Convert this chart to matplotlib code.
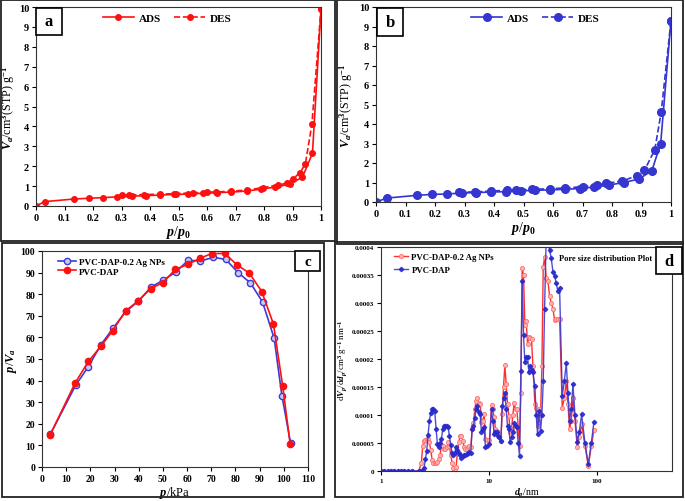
import matplotlib
matplotlib.use("Agg")
import matplotlib.pyplot as plt
from matplotlib.patches import Rectangle

plt.rcParams['font.family'] = ['Liberation Serif', 'DejaVu Serif']
plt.rcParams['font.weight'] = 'bold'
plt.rcParams['mathtext.fontset'] = 'custom'
plt.rcParams['mathtext.rm'] = 'Liberation Serif:bold'
plt.rcParams['mathtext.it'] = 'Liberation Serif:italic:bold'
plt.rcParams['mathtext.bf'] = 'Liberation Serif:bold'
plt.rcParams['axes.linewidth'] = 0.8

# ---------------- Panel a (red isotherm) ----------------
a_ads_p = [0.0, 0.03, 0.133, 0.186, 0.236, 0.285, 0.336, 0.385, 0.435, 0.485, 0.535, 0.585, 0.635, 0.685, 0.74, 0.79, 0.84, 0.89, 0.935, 0.97, 1.0]
a_ads_v = [0.0, 0.22, 0.35, 0.39, 0.42, 0.46, 0.49, 0.52, 0.55, 0.58, 0.60, 0.64, 0.67, 0.70, 0.75, 0.85, 0.95, 1.10, 1.45, 2.65, 9.9]
a_des_p = [0.30, 0.325, 0.38, 0.435, 0.49, 0.55, 0.60, 0.63, 0.685, 0.74, 0.795, 0.85, 0.88, 0.90, 0.925, 0.945, 0.968, 1.0]
a_des_v = [0.55, 0.55, 0.57, 0.60, 0.62, 0.66, 0.70, 0.70, 0.75, 0.80, 0.92, 1.05, 1.15, 1.35, 1.65, 2.10, 4.10, 9.9]

# ---------------- Panel b (blue isotherm) ----------------
b_ads_p = [0.0, 0.036, 0.138, 0.189, 0.24, 0.29, 0.34, 0.39, 0.44, 0.49, 0.54, 0.59, 0.64, 0.69, 0.74, 0.79, 0.84, 0.89, 0.935, 0.965, 1.0]
b_ads_v = [0.0, 0.20, 0.34, 0.39, 0.41, 0.46, 0.48, 0.51, 0.53, 0.57, 0.60, 0.62, 0.65, 0.69, 0.77, 0.87, 1.00, 1.17, 1.60, 3.00, 9.3]
b_des_p = [0.28, 0.335, 0.39, 0.445, 0.475, 0.53, 0.59, 0.64, 0.70, 0.75, 0.78, 0.835, 0.885, 0.91, 0.945, 0.967, 1.0]
b_des_v = [0.50, 0.52, 0.56, 0.60, 0.62, 0.65, 0.68, 0.72, 0.78, 0.88, 0.95, 1.08, 1.35, 1.62, 2.68, 4.63, 9.3]

# ---------------- Panel c (p/Va vs p) ----------------
c_ag_p = [3.4, 13.9, 19.2, 24.3, 29.4, 34.7, 39.9, 45.0, 50.1, 55.3, 60.5, 65.5, 70.8, 76.0, 81.1, 86.2, 91.2, 96.0, 99.2, 102.8]
c_ag_v = [15.1, 37.8, 46.5, 56.5, 64.3, 72.0, 76.8, 83.2, 86.5, 90.2, 95.8, 95.3, 97.1, 96.1, 90.0, 85.2, 76.4, 59.6, 33.1, 11.1]
c_dap_p = [3.4, 13.7, 19.2, 24.3, 29.2, 34.6, 39.8, 44.9, 50.1, 55.1, 60.4, 65.2, 70.2, 75.6, 80.5, 85.7, 90.9, 95.7, 99.5, 102.6]
c_dap_v = [14.9, 38.9, 48.9, 55.8, 63.1, 72.3, 76.9, 82.6, 85.4, 91.5, 93.8, 96.6, 98.8, 98.9, 93.7, 89.8, 81.2, 66.2, 37.7, 10.8]

# ---------------- Panel d (pore size distribution) ----------------
d_nm = [1.000, 1.074, 1.153, 1.238, 1.330, 1.428, 1.534, 1.647, 1.769, 1.941,
        2.238, 2.370, 2.438, 2.508, 2.580, 2.656, 2.733, 2.811, 2.893, 2.977,
        3.063, 3.151, 3.243, 3.336, 3.433, 3.532, 3.634, 3.739, 3.847, 3.958,
        4.073, 4.190, 4.311, 4.437, 4.565, 4.697, 4.833, 4.973, 5.117, 5.265,
        5.417, 5.574, 5.735, 5.901, 6.072, 6.247, 6.427, 6.613, 6.805, 7.002,
        7.204, 7.413, 7.627, 7.847, 8.074, 8.308, 8.548, 8.795, 9.050, 9.311,
        9.719, 10.14, 10.59, 10.89, 11.21, 11.53, 11.87, 12.21, 12.56, 12.93,
        13.30, 13.69, 14.08, 14.49, 14.91, 15.34, 15.78, 16.24, 16.71, 17.19,
        17.69, 18.20, 18.73, 19.27, 19.83, 20.40, 20.99, 21.60, 22.22, 22.87,
        23.53, 24.21, 24.91, 25.63, 26.74, 27.52, 28.31, 29.34, 30.19, 31.07,
        31.96, 32.89, 34.08, 35.32, 36.60, 37.93, 39.30, 40.73, 42.21, 43.74,
        45.33, 47.99, 50.09, 52.29, 54.17, 56.14, 58.18, 60.29, 62.93, 66.14,
        69.02, 72.57, 77.93, 83.67, 89.24, 94.46]
# values in units of 1e-5 cm3 g-1 nm-1
d_dap_e5 = [0, 0, 0, 0, 0, 0, 0, 0, 0, 0,
            0, 0, 0, 0.5, 2.1, 3.6, 6.5, 9.0, 10.4, 11.0,
            11.0, 10.7, 7.5, 4.8, 4.2, 5.0, 5.7, 7.5, 8.1, 8.1,
            8.1, 7.8, 6.3, 4.6, 3.2, 2.9, 3.3, 4.2, 3.8, 3.2,
            2.8, 2.4, 2.6, 2.8, 2.9, 3.1, 3.2, 3.4, 3.3, 7.5,
            8.0, 9.5, 11.0, 11.6, 10.5, 10.1, 7.0, 7.5, 7.8, 4.2,
            4.5, 4.8, 11.0, 9.0, 6.6, 7.0, 7.0, 6.3, 6.0, 5.4,
            11.6, 13.0, 14.0, 11.0, 8.0, 7.5, 5.1, 6.0, 7.0, 8.5,
            8.0, 7.8, 5.0, 2.7, 17.9, 34.0, 24.2, 19.4, 20.3, 20.3,
            17.6, 18.7, 18.0, 17.6, 15.2, 10.0, 6.6, 10.7, 7.2, 10.0,
            16.0, 29.0, 42.0, 41.0, 39.5, 38.0, 35.6, 34.9, 33.5, 32.1,
            32.6, 13.4, 16.0, 19.2, 14.0, 9.0, 11.0, 15.5, 10.0, 5.1,
            7.0, 10.1, 5.0, 1.2, 5.0, 8.8]
d_ag_e5 = [0, 0, 0, 0, 0, 0, 0, 0, 0, 0,
           0, 1.5, 4.5, 5.4, 5.6, 5.8, 5.8, 5.1, 3.8, 2.0,
           1.5, 1.5, 1.5, 1.6, 2.2, 2.9, 4.6, 4.5, 4.0, 4.0,
           4.2, 5.1, 4.5, 2.8, 1.5, 0.6, 0.0, 0.8, 3.2, 5.2,
           6.2, 6.3, 5.4, 4.2, 4.0, 3.9, 4.2, 4.5, 4.2, 7.5,
           8.5, 11.0, 12.5, 13.1, 12.1, 12.0, 8.7, 9.0, 10.1, 5.7,
           5.6, 5.5, 11.8, 11.0, 9.6, 7.5, 7.2, 6.6, 6.0, 5.4,
           10.1, 15.0, 18.9, 15.5, 12.0, 9.9, 6.9, 7.5, 10.0, 12.2,
           11.0, 11.0, 8.0, 4.5, 14.0, 36.3, 35.0, 26.0, 26.7, 22.7,
           23.9, 23.7, 23.5, 18.8, 12.0, 11.3, 8.0, 11.0, 10.0, 18.8,
           36.4, 38.2, 34.5, 33.9, 31.3, 30.0, 29.0, 27.0, 27.1, 27.2,
           27.2, 11.3, 13.0, 16.1, 12.0, 7.5, 9.0, 13.0, 9.0, 4.2,
           6.0, 8.4, 4.5, 0.9, 4.5, 7.3]
d_yticks = [0, 0.00005, 0.0001, 0.00015, 0.0002, 0.00025, 0.0003, 0.00035, 0.0004]
d_yticklabels = ['0', '0.00005', '0.0001', '0.00015', '0.0002', '0.00025', '0.0003', '0.00035', '0.0004']

W, H = 685, 502
fig = plt.figure(figsize=(W / 100, H / 100), dpi=100)


def px_axes(x0, x1, y0, y1):
    return fig.add_axes([x0 / W, 1 - y1 / H, (x1 - x0) / W, (y1 - y0) / H])


def px_frame(x0, y0, x1, y1, lw=1.3):
    fig.add_artist(Rectangle((x0 / W, 1 - y1 / H), (x1 - x0) / W, (y1 - y0) / H,
                             transform=fig.transFigure, fill=False, ec='#222222', lw=lw))


def label_box(x0, y0, x1, y1, txt, fs=12):
    fig.add_artist(Rectangle((x0 / W, 1 - y1 / H), (x1 - x0) / W, (y1 - y0) / H,
                             transform=fig.transFigure, fc='white', ec='black', lw=1.2, zorder=10))
    fig.text((x0 + x1) / 2 / W, 1 - (y0 + y1) / 2 / H, txt, ha='center', va='center',
             fontsize=fs, fontweight='bold', zorder=11)


def style(ax, fs):
    ax.tick_params(direction='out', length=3, width=0.8, labelsize=fs, pad=2)
    for s in ax.spines.values():
        s.set_color('#333333')
        s.set_linewidth(0.8)


# outer panel frames
px_frame(1, 1, 335, 242)
px_frame(337, 1, 683, 245)
px_frame(2, 244, 324, 498)
px_frame(335, 243, 683, 498)

# ---- a ----
red = '#ff1010'
axa = px_axes(36, 321, 8, 207)
axa.plot(a_ads_p, a_ads_v, '-', color=red, marker='o', ms=4, lw=1.2, label='ADS')
axa.plot(a_des_p, a_des_v, '--', color=red, marker='o', ms=4, lw=1.2, label='DES')
axa.set_xlim(0, 1)
axa.set_ylim(0, 10)
axa.set_xticks([i / 10 for i in range(11)])
axa.set_xticklabels(['0', '0.1', '0.2', '0.3', '0.4', '0.5', '0.6', '0.7', '0.8', '0.9', '1'])
axa.set_yticks(range(11))
style(axa, 7.5)
axa.set_xlabel(r'$p$/$p_0$', fontsize=10, labelpad=1)
axa.set_ylabel(r'$V_a$/cm$^3$(STP) g$^{-1}$', fontsize=8.7)
axa.yaxis.set_label_coords(-0.068, 0.5)
axa.legend(loc='upper center', bbox_to_anchor=(0.46, 1.02), ncol=2, frameon=False,
           fontsize=8, handlelength=2.8, columnspacing=1.2, handletextpad=0.4)
label_box(36, 9, 62, 36, 'a')

# ---- b ----
blue = '#3535cf'
axb = px_axes(376, 671, 8, 203)
axb.plot(b_ads_p, b_ads_v, '-', color=blue, marker='o', ms=5.5, lw=1.2, label='ADS')
axb.plot(b_des_p, b_des_v, '--', color=blue, marker='o', ms=5.5, lw=1.2, label='DES')
axb.set_xlim(0, 1)
axb.set_ylim(0, 10)
axb.set_xticks([i / 10 for i in range(11)])
axb.set_xticklabels(['0', '0.1', '0.2', '0.3', '0.4', '0.5', '0.6', '0.7', '0.8', '0.9', '1'])
axb.set_yticks(range(11))
style(axb, 7.5)
axb.set_xlabel(r'$p$/$p_0$', fontsize=10, labelpad=1)
axb.set_ylabel(r'$V_a$/cm$^3$(STP) g$^{-1}$', fontsize=8.7)
axb.yaxis.set_label_coords(-0.07, 0.5)
axb.legend(loc='upper center', bbox_to_anchor=(0.54, 1.02), ncol=2, frameon=False,
           fontsize=8, handlelength=2.8, columnspacing=1.2, handletextpad=0.4)
label_box(377, 9, 403, 37, 'b')

# ---- c ----
axc = px_axes(42, 308, 252, 468)
axc.plot(c_ag_p, c_ag_v, '-', color='#3b3bd6', marker='o', ms=4.5, mfc='#c8c8f0',
         mec='#3b3bd6', mew=1.0, lw=1.2, label='PVC-DAP-0.2 Ag NPs')
axc.plot(c_dap_p, c_dap_v, '-', color=red, marker='o', ms=4.5, lw=1.2, label='PVC-DAP')
axc.set_xlim(0, 110)
axc.set_ylim(0, 100)
axc.set_xticks(range(0, 111, 10))
axc.set_yticks(range(0, 101, 10))
style(axc, 7)
axc.set_xlabel(r'$p$/kPa', fontsize=9, labelpad=1)
axc.set_ylabel(r'$p$/$V_a$', fontsize=9)
axc.yaxis.set_label_coords(-0.085, 0.5)
axc.legend(loc='upper left', bbox_to_anchor=(0.035, 1.0), frameon=False, fontsize=6.6,
           handlelength=2.0, handletextpad=0.3, labelspacing=0.15, borderaxespad=0.3)
label_box(295, 252, 320, 272, 'c', fs=11)

# ---- d ----
axd = px_axes(381, 672, 248, 472)
axd.plot(d_nm, [v * 1e-5 for v in d_ag_e5], '-', color='#ff3030', marker='o', ms=3,
         mfc='#ffb0b0', mec='#ff7070', mew=0.6, lw=1.0, label='PVC-DAP-0.2 Ag NPs')
axd.plot(d_nm, [v * 1e-5 for v in d_dap_e5], '-', color='#3a3ad0', marker='D', ms=2.2,
         mfc='#2a2acc', mec='#2a2acc', lw=1.0, alpha=0.9, label='PVC-DAP')
axd.set_xscale('log')
axd.set_xlim(1, 500)
axd.set_ylim(0, 0.0004)
axd.set_xticks([1, 10, 100])
axd.set_xticklabels(['1', '10', '100'])
axd.minorticks_off()
axd.set_yticks(d_yticks)
axd.set_yticklabels(d_yticklabels)
style(axd, 5)
axd.set_xlabel(r'$d_p$/nm', fontsize=7, labelpad=2)
axd.set_ylabel(r'd$V_p$/d$d_p$/cm$^3$ g$^{-1}$ nm$^{-1}$', fontsize=6.5)
axd.yaxis.set_label_coords(-0.11, 0.5)
axd.legend(loc='upper left', bbox_to_anchor=(0.025, 1.0), frameon=False, fontsize=6.3,
           handlelength=1.6, handletextpad=0.35, labelspacing=0.5, borderaxespad=0.3)
axd.text(0.77, 0.95, 'Pore size distribution Plot', transform=axd.transAxes,
         ha='center', va='center', fontsize=6)
label_box(656, 248, 682, 275, 'd', fs=12)

fig.savefig('out.png', dpi=100)
